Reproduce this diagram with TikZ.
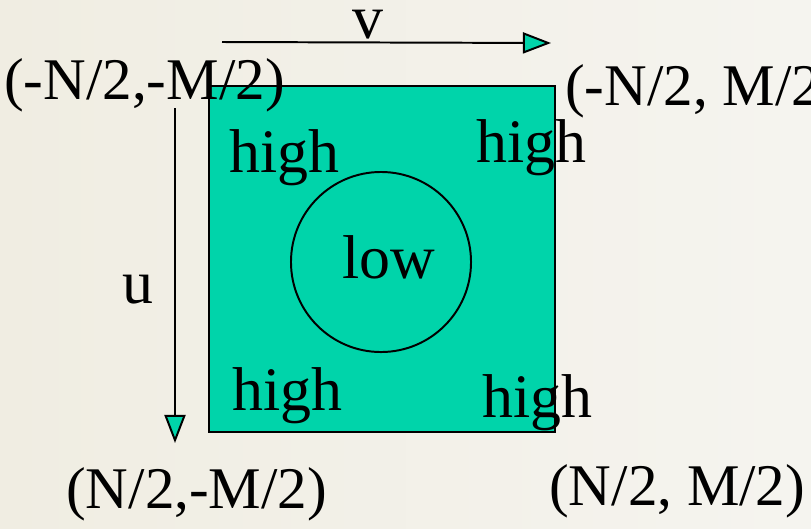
\documentclass[tikz,border=0pt]{standalone}
\usepackage{fontspec}
\setmainfont{Liberation Serif}
\usepackage{xcolor}
\usetikzlibrary{arrows.meta, positioning}

\definecolor{spectrum}{RGB}{0,212,170}
\definecolor{paper}{RGB}{240,237,226}
\definecolor{paperlight}{RGB}{245,244,239}

\begin{document}
\begin{tikzpicture}[
  x=0.025cm, y=-0.025cm,
  axis/.style={-{Triangle[length=20pt, width=15pt, fill=spectrum]}, line width=1.4pt, line join=round},
  word/.style={anchor=base west, inner sep=0pt, font=\fontsize{44}{50}\selectfont},
  corner/.style={anchor=base west, inner sep=0pt, font=\fontsize{42}{48}\selectfont}
]

  % background
  \shade[left color=paper, right color=paperlight] (0,0) rectangle (811,528);
  \useasboundingbox (0,0) rectangle (811,528);

  % frequency plane
  \node (plane) [draw, line width=1.4pt, fill=spectrum, minimum width=8.65cm, minimum height=8.65cm] at (382,259) {};
  \node (zone) [circle, draw, line width=1.4pt, minimum size=4.5cm] at (381,262) {};

  % labels inside
  \node (low) [word] at (342,278) {low};
  \node (hightl) [word] at (229,172) {high};
  \node (hightr) [word] at (476,162) {high};
  \node (highbl) [word] at (232,410) {high};
  \node (highbr) [word] at (482,417) {high};

  % axes
  \coordinate (vstart) at (222,42);
  \coordinate (vend) at (551,43);
  \coordinate (ustart) at (175,108);
  \coordinate (uend) at (175,443);
  \draw[axis] (vstart) -- (vend);
  \draw[axis] (ustart) -- (uend);
  \node (vlab) [word] at (352,38) {v};
  \node (ulab) [word] at (122,303) {u};

  % corner coordinates
  \node (ctl) [corner] at (4,99) {(-N/2,-M/2)};
  \node (ctr) [corner] at (565,105) {(-N/2, M/2)};
  \node (cbl) [corner] at (66,508) {(N/2,-M/2)};
  \node (cbr) [corner] at (549,505) {(N/2, M/2)};

\end{tikzpicture}
\end{document}
